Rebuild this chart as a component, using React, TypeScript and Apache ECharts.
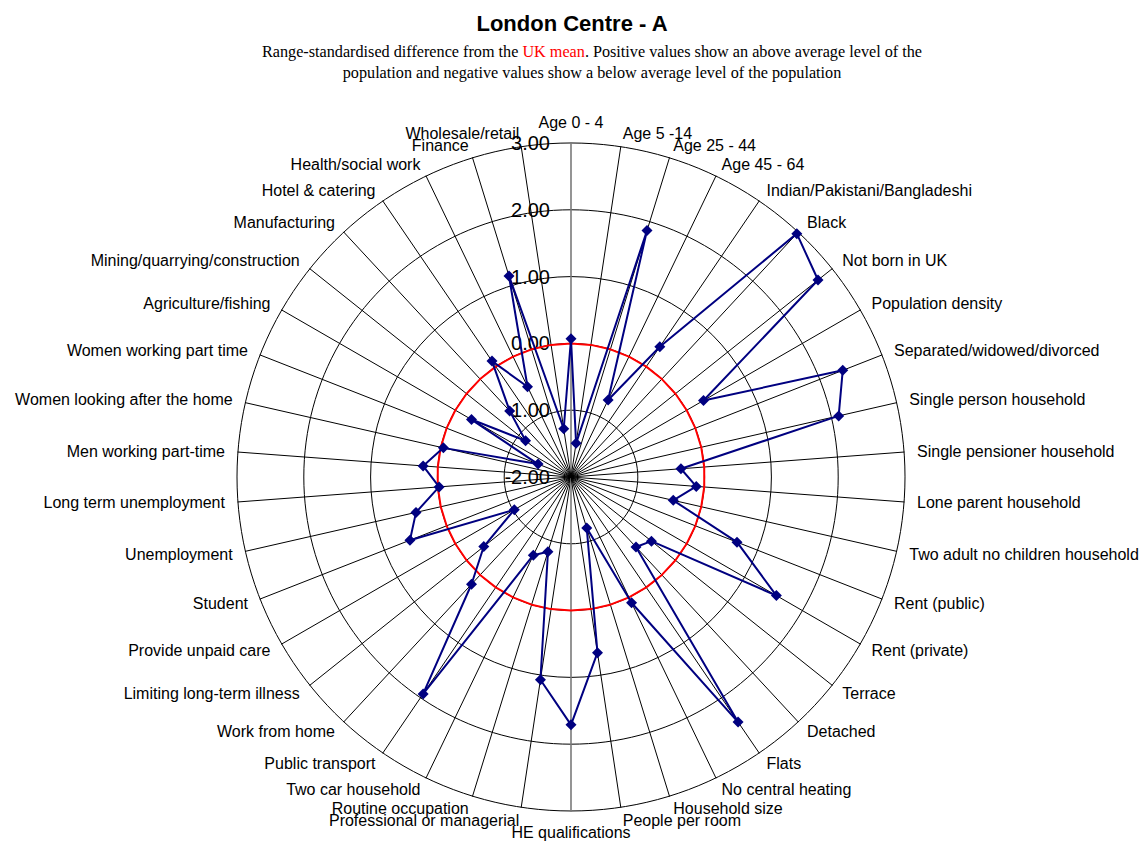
import React, { useEffect, useRef } from "react";
import * as echarts from "echarts";

const chartTitle = "London Centre - A";
const subtitleLine1 =
  "Range-standardised difference from the {r|UK mean}. Positive values show an above average level of the";
const subtitleLine2 =
  "population and negative values show a below average level of the population";

// Indicators listed clockwise from the top
const indicatorNames = [
  "Age 0 - 4",
  "Age 5 -14",
  "Age 25 - 44",
  "Age 45 - 64",
  "Indian/Pakistani/Bangladeshi",
  "Black",
  "Not born in UK",
  "Population density",
  "Separated/widowed/divorced",
  "Single person household",
  "Single pensioner household",
  "Lone parent household",
  "Two adult no children household",
  "Rent (public)",
  "Rent (private)",
  "Terrace",
  "Detached",
  "Flats",
  "No central heating",
  "Household size",
  "People per room",
  "HE qualifications",
  "Professional or managerial",
  "Routine occupation",
  "Two car household",
  "Public transport",
  "Work from home",
  "Limiting long-term illness",
  "Provide unpaid care",
  "Student",
  "Unemployment",
  "Long term unemployment",
  "Men working part-time",
  "Women looking after the home",
  "Women working part time",
  "Agriculture/fishing",
  "Mining/quarrying/construction",
  "Manufacturing",
  "Hotel & catering",
  "Health/social work",
  "Finance",
  "Wholesale/retail",
];

const areaValues = [
  0.07, -1.49, 1.86, -0.72, 0.36, 2.97, 2.73, 0.29, 2.37, 2.11, -0.35, -0.12,
  -0.43, 0.67, 1.55, -0.46, -0.57, 2.44, 0.09, -1.2, 0.66, 1.71, 1.07, -0.83,
  -0.7, 1.93, 0.19, -0.33, -1.02, 0.59, 0.38, -0.02, 0.22, -0.04, -1.47, -0.28,
  -1.13, -0.65, 0.1, -0.5, 1.15, -1.27,
];

const ukMeanValues = [
  0, 0, 0, 0, 0, 0, 0, 0, 0, 0, 0, 0, 0, 0, 0, 0, 0, 0, 0, 0, 0, 0, 0, 0, 0, 0,
  0, 0, 0, 0, 0, 0, 0, 0, 0, 0, 0, 0, 0, 0, 0, 0,
];

const axisMin = -2;
const axisMax = 3;
const splitCount = 5;

const SANS = "'Liberation Sans', Arial, sans-serif";
const SERIF = "'Liberation Serif', 'Times New Roman', serif";

// ECharts lays radar indicators out counter-clockwise; reorder so the
// picture runs clockwise: first item stays on top, the rest reversed.
function clockwiseOrder<T>(arr: T[]): T[] {
  return [arr[0], ...arr.slice(1).reverse()];
}

export default function App() {
  const ref = useRef<HTMLDivElement>(null);

  useEffect(() => {
    if (!ref.current) return;
    const chart = echarts.init(ref.current, null, { renderer: "svg" });

    const indicators = indicatorNames.map((name, i) => {
      const ind: any = { name, min: axisMin, max: axisMax };
      if (i === 0) {
        ind.axisLabel = { show: true };
      }
      if (i === 0 || i === 21) {
        ind.axisLine = { lineStyle: { color: "#7a7a7a", width: 1.6 } };
      }
      return ind;
    });

    chart.setOption({
      animation: false,
      backgroundColor: "#ffffff",
      title: [
        {
          text: chartTitle,
          left: 572,
          top: 12,
          textAlign: "center",
          padding: 0,
          textStyle: {
            fontFamily: SANS,
            fontSize: 22,
            fontWeight: "bold",
            color: "#000",
          },
        },
        {
          text: subtitleLine1 + "\n" + subtitleLine2,
          left: 592,
          top: 41,
          textAlign: "center",
          padding: 0,
          textStyle: {
            fontFamily: SERIF,
            fontSize: 16.2,
            fontWeight: "normal",
            color: "#000",
            lineHeight: 21,
            rich: {
              r: {
                color: "#ff0000",
                fontFamily: SERIF,
                fontSize: 16.2,
                lineHeight: 21,
              },
            },
          },
        },
      ],
      radar: {
        center: [571, 477],
        radius: 334,
        startAngle: 90,
        shape: "circle",
        splitNumber: splitCount,
        indicator: clockwiseOrder(indicators),
        axisName: {
          color: "#000",
          fontFamily: SANS,
          fontSize: 16,
        },
        nameGap: 13,
        splitLine: { lineStyle: { color: "#000", width: 1 } },
        splitArea: { show: false },
        axisLine: { lineStyle: { color: "#000", width: 1 } },
        axisTick: { show: false },
        axisLabel: {
          show: false,
          color: "#000",
          fontFamily: SANS,
          fontSize: 20,
          margin: 21,
          formatter: (v: number) => Number(v).toFixed(2),
        },
      },
      series: [
        {
          type: "radar",
          z: 2,
          silent: true,
          symbol: "none",
          lineStyle: { color: "#ff0000", width: 2 },
          data: [{ value: clockwiseOrder(ukMeanValues), name: "UK mean" }],
        },
        {
          type: "radar",
          z: 3,
          symbol: "diamond",
          symbolSize: 11,
          itemStyle: { color: "#000080" },
          lineStyle: { color: "#000080", width: 2 },
          data: [{ value: clockwiseOrder(areaValues), name: chartTitle }],
        },
      ],
    });

    return () => chart.dispose();
  }, []);

  return (
    <div
      ref={ref}
      style={{
        position: "fixed",
        left: 0,
        top: 0,
        width: 1145,
        height: 844,
        background: "#fff",
      }}
    />
  );
}
